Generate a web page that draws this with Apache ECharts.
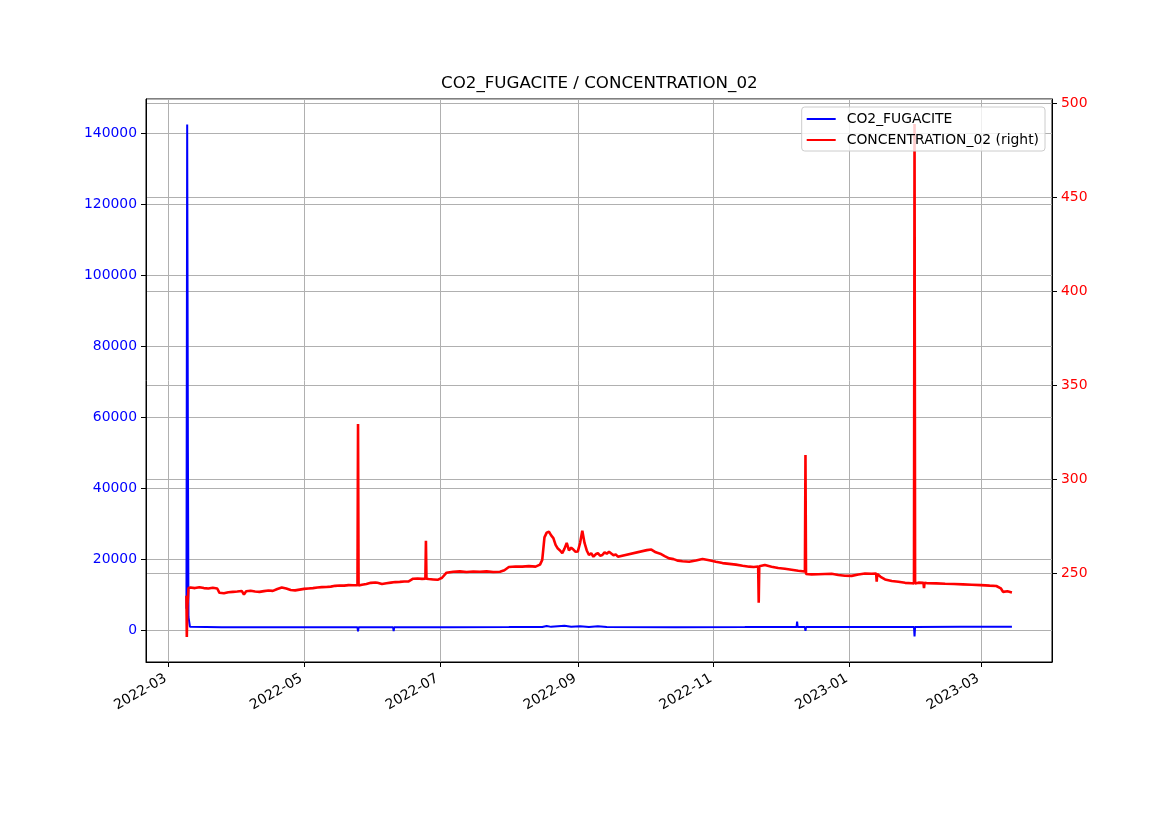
<!DOCTYPE html>
<html>
<head>
<meta charset="utf-8">
<script src="https://cdn.jsdelivr.net/npm/echarts@6/dist/echarts.min.js"></script>
<style>
  html, body { margin: 0; padding: 0; background: #fff; }
  #chart { width: 1169px; height: 827px; }
</style>
</head>
<body>
<div id="chart"></div>
<script>
// month ticks shown on the date axis
const monthTicks = ['2022-03-01', '2022-05-01', '2022-07-01', '2022-09-01', '2022-11-01', '2023-01-01', '2023-03-01'];

// CO2_FUGACITE (left axis)
const co2Fugacite = [
  ['2022-03-09 04:00', 6000], ['2022-03-09 12:00', 142400], ['2022-03-09 20:00', 50000],
  ['2022-03-10 02:00', 3700], ['2022-03-10 10:00', 3500], ['2022-03-10 18:00', 900],
  ['2022-03-25', 780], ['2022-04-15', 760], ['2022-05-10', 760],
  ['2022-05-25 00:00', 770], ['2022-05-25 06:00', -400], ['2022-05-25 12:00', 770],
  ['2022-06-10 00:00', 780], ['2022-06-10 06:00', -300], ['2022-06-10 12:00', 780],
  ['2022-07-05', 820], ['2022-08-01', 830], ['2022-08-16', 850], ['2022-08-18', 1150],
  ['2022-08-20', 900], ['2022-08-26', 1200], ['2022-08-29', 900], ['2022-09-02', 1100],
  ['2022-09-06', 850], ['2022-09-10', 1100], ['2022-09-14', 850], ['2022-10-15', 820],
  ['2022-11-15', 830],
  ['2022-12-08 06:00', 850], ['2022-12-08 12:00', 2400], ['2022-12-08 18:00', 850],
  ['2022-12-12 00:00', 850], ['2022-12-12 06:00', -200], ['2022-12-12 12:00', 850],
  ['2022-12-26 00:00', 860], ['2022-12-26 06:00', 1150], ['2022-12-26 12:00', 860],
  ['2023-01-15', 880],
  ['2023-01-30 00:00', 880], ['2023-01-30 06:00', -1800], ['2023-01-30 12:00', 880],
  ['2023-02-20', 900], ['2023-03-15', 900]
];

// CONCENTRATION_02 (right axis)
const concentration02 = [
  ['2022-03-09 04:00', 238], ['2022-03-09 08:00', 216], ['2022-03-09 14:00', 232], ['2022-03-10 02:00', 242],
  ['2022-03-11', 242.3], ['2022-03-13', 242], ['2022-03-15', 242.5], ['2022-03-17', 242],
  ['2022-03-19', 241.8], ['2022-03-21', 242.2], ['2022-03-23', 241.8],
  ['2022-03-24', 239.5], ['2022-03-26', 239.3], ['2022-03-28', 239.8], ['2022-03-30', 240],
  ['2022-04-01', 240.2], ['2022-04-03', 240.5], ['2022-04-04', 238.6], ['2022-04-05', 240.3],
  ['2022-04-07', 240.6], ['2022-04-09', 240.2], ['2022-04-11', 240], ['2022-04-13', 240.4],
  ['2022-04-15', 240.7], ['2022-04-17', 240.5], ['2022-04-19', 241.5], ['2022-04-21', 242.3],
  ['2022-04-23', 241.8], ['2022-04-25', 241], ['2022-04-27', 240.8], ['2022-04-29', 241.2],
  ['2022-05-01', 241.6], ['2022-05-03', 241.8], ['2022-05-05', 242], ['2022-05-07', 242.3],
  ['2022-05-09', 242.5], ['2022-05-11', 242.6], ['2022-05-13', 242.8], ['2022-05-15', 243.2],
  ['2022-05-17', 243.4], ['2022-05-19', 243.3], ['2022-05-21', 243.6], ['2022-05-23', 243.5],
  ['2022-05-25 00:00', 243.6], ['2022-05-25 06:00', 329.3], ['2022-05-25 12:00', 243.4],
  ['2022-05-27', 243.8], ['2022-05-29', 244.2], ['2022-05-31', 244.8],
  ['2022-06-02', 245], ['2022-06-03', 244.8], ['2022-06-05', 244.2], ['2022-06-07', 244.6],
  ['2022-06-09', 244.9], ['2022-06-11', 245.2], ['2022-06-13', 245.3], ['2022-06-15', 245.5],
  ['2022-06-17', 245.6], ['2022-06-19', 247], ['2022-06-21', 247.1], ['2022-06-23', 246.9],
  ['2022-06-24 12:00', 247], ['2022-06-24 18:00', 267.2], ['2022-06-25 00:00', 247],
  ['2022-06-26', 246.8], ['2022-06-28', 246.6], ['2022-06-30', 246.4],
  ['2022-07-02', 247.5], ['2022-07-04', 250.2], ['2022-07-07', 250.7], ['2022-07-10', 250.9],
  ['2022-07-13', 250.6], ['2022-07-16', 250.8], ['2022-07-19', 250.7], ['2022-07-22', 250.9],
  ['2022-07-25', 250.6], ['2022-07-28', 250.7], ['2022-07-30', 251.5],
  ['2022-08-01', 253.2], ['2022-08-04', 253.5], ['2022-08-07', 253.4], ['2022-08-10', 253.7],
  ['2022-08-13', 253.4], ['2022-08-15', 254.5], ['2022-08-16', 257], ['2022-08-17', 269],
  ['2022-08-18', 271.5], ['2022-08-19', 272], ['2022-08-20', 270], ['2022-08-21', 268.6],
  ['2022-08-22', 265], ['2022-08-23', 263], ['2022-08-24', 262], ['2022-08-25', 260.6],
  ['2022-08-26', 263], ['2022-08-27', 266], ['2022-08-28', 262], ['2022-08-29', 263.5],
  ['2022-08-30', 262.5], ['2022-08-31', 261.3],
  ['2022-09-01', 261.5], ['2022-09-02', 266], ['2022-09-03', 272.5], ['2022-09-04', 266],
  ['2022-09-05', 262], ['2022-09-06', 259.6], ['2022-09-07', 260.5], ['2022-09-08', 258.7],
  ['2022-09-09', 260], ['2022-09-10', 260.6], ['2022-09-11', 259.2], ['2022-09-12', 259.6],
  ['2022-09-13', 261], ['2022-09-14', 260.3], ['2022-09-15', 261.3], ['2022-09-16', 260.4],
  ['2022-09-17', 259.5], ['2022-09-18', 259.9], ['2022-09-19', 258.7],
  ['2022-10-02', 262.2], ['2022-10-04', 262.5], ['2022-10-06', 261], ['2022-10-08', 260.3],
  ['2022-10-10', 259], ['2022-10-12', 257.8], ['2022-10-14', 257.4], ['2022-10-16', 256.6],
  ['2022-10-18', 256.3], ['2022-10-21', 256], ['2022-10-24', 256.7], ['2022-10-27', 257.5],
  ['2022-10-30', 256.8],
  ['2022-11-02', 256], ['2022-11-05', 255.3], ['2022-11-08', 254.9], ['2022-11-11', 254.5],
  ['2022-11-14', 253.9], ['2022-11-17', 253.4], ['2022-11-19', 253.2],
  ['2022-11-21 00:00', 253.5], ['2022-11-21 06:00', 234.2], ['2022-11-21 12:00', 253.6],
  ['2022-11-24', 254.3], ['2022-11-27', 253.4], ['2022-11-30', 252.7],
  ['2022-12-03', 252.3], ['2022-12-06', 251.8], ['2022-12-09', 251.2],
  ['2022-12-12 00:00', 250.8], ['2022-12-12 06:00', 312.8], ['2022-12-12 12:00', 249.5],
  ['2022-12-15', 249.3], ['2022-12-18', 249.4], ['2022-12-21', 249.5], ['2022-12-24', 249.6],
  ['2022-12-27', 249], ['2022-12-30', 248.6],
  ['2023-01-02', 248.5], ['2023-01-05', 249.2], ['2023-01-08', 249.8], ['2023-01-11', 249.6],
  ['2023-01-13 00:00', 249.8], ['2023-01-13 06:00', 245.4], ['2023-01-13 12:00', 249.5],
  ['2023-01-15', 248], ['2023-01-17', 246.6], ['2023-01-20', 245.8], ['2023-01-23', 245.4],
  ['2023-01-26', 244.8], ['2023-01-29', 244.6],
  ['2023-01-30 00:00', 244.5], ['2023-01-30 06:00', 488.8], ['2023-01-30 12:00', 244.4],
  ['2023-02-01', 244.9], ['2023-02-03 06:00', 244.8], ['2023-02-03 12:00', 242], ['2023-02-03 18:00', 244.8],
  ['2023-02-05', 244.6], ['2023-02-09', 244.5], ['2023-02-13', 244.3], ['2023-02-17', 244.2],
  ['2023-02-21', 244], ['2023-02-25', 243.8],
  ['2023-03-01', 243.6], ['2023-03-05', 243.3], ['2023-03-08', 243.1], ['2023-03-10', 241.9],
  ['2023-03-11', 240], ['2023-03-13', 240.3], ['2023-03-15', 239.7]
];

const FONT = 'DejaVu Sans';
const TICK_FS = 13.9;

// parse 'YYYY-MM-DD[ HH:MM]' as UTC milliseconds
function toMs(s) {
  const p = s.split(/[- :]/).map(Number);
  return Date.UTC(p[0], p[1] - 1, p[2], p[3] || 0, p[4] || 0);
}
function fmtMonth(ms) {
  const d = new Date(ms);
  const m = d.getUTCMonth() + 1;
  return d.getUTCFullYear() + '-' + (m < 10 ? '0' + m : m);
}

const tickTimes = monthTicks.map(toMs);
const blueData = co2Fugacite.map(d => [toMs(d[0]), d[1]]);
const redData = concentration02.map(d => [toMs(d[0]), d[1]]);

const chart = echarts.init(document.getElementById('chart'));

const option = {
  animation: false,
  backgroundColor: '#fff',
  textStyle: { fontFamily: FONT },
  title: {
    text: 'CO2_FUGACITE / CONCENTRATION_02',
    left: 441,
    top: 75,
    padding: 0,
    textStyle: { fontFamily: FONT, fontSize: 16.7, fontWeight: 'normal', color: '#000' }
  },
  legend: {
    orient: 'vertical',
    right: 124,
    top: 107,
    padding: [5, 6, 4, 5],
    itemGap: 7,
    itemWidth: 29,
    itemHeight: 2,
    icon: 'rect',
    backgroundColor: 'rgba(255,255,255,0.8)',
    borderColor: '#cccccc',
    borderWidth: 1,
    borderRadius: 3,
    textStyle: { fontFamily: FONT, fontSize: TICK_FS, color: '#000', padding: [0, 0, 0, 6] },
    data: ['CO2_FUGACITE', 'CONCENTRATION_02 (right)']
  },
  grid: {
    left: 146, right: 117, top: 99, bottom: 165,
    show: true, borderColor: '#000', borderWidth: 1, backgroundColor: 'transparent'
  },
  xAxis: {
    type: 'value',
    min: toMs('2022-02-19 00:00'),
    max: toMs('2023-04-02 00:00'),
    axisLine: { show: true, onZero: false, lineStyle: { color: '#000', width: 1 } },
    axisTick: { show: true, length: 5, customValues: tickTimes, lineStyle: { color: '#000' } },
    axisLabel: {
      customValues: tickTimes,
      rotate: 30,
      margin: 14,
      padding: [0, 3, 0, 0],
      fontFamily: FONT,
      fontSize: TICK_FS,
      color: '#000',
      formatter: v => fmtMonth(v)
    },
    splitLine: { show: true, lineStyle: { color: '#b0b0b0', width: 1 } }
  },
  yAxis: [
    {
      type: 'value',
      min: -9000,
      max: 149600,
      splitNumber: 8,
      position: 'left',
      axisLine: { show: true, onZero: false, lineStyle: { color: '#000' } },
      axisTick: { show: true, length: 5, lineStyle: { color: '#000' } },
      axisLabel: {
        color: '#0000ff', fontFamily: FONT, fontSize: TICK_FS, margin: 9,
        showMinLabel: false, showMaxLabel: false,
        formatter: v => String(v)
      },
      splitLine: { show: true, lineStyle: { color: '#b0b0b0', width: 1 } }
    },
    {
      type: 'value',
      min: 202.7,
      max: 502.1,
      splitNumber: 6,
      position: 'right',
      axisLine: { show: true, onZero: false, lineStyle: { color: '#000' } },
      axisTick: { show: true, length: 5, lineStyle: { color: '#000' } },
      axisLabel: {
        color: '#ff0000', fontFamily: FONT, fontSize: TICK_FS, margin: 9,
        showMinLabel: false, showMaxLabel: false,
        formatter: v => String(v)
      },
      splitLine: { show: true, lineStyle: { color: '#b0b0b0', width: 1 } }
    }
  ],
  series: [
    {
      name: 'CO2_FUGACITE',
      type: 'line',
      yAxisIndex: 0,
      showSymbol: false,
      data: blueData,
      lineStyle: { color: '#0000ff', width: 2 },
      itemStyle: { color: '#0000ff' }
    },
    {
      name: 'CONCENTRATION_02 (right)',
      type: 'line',
      yAxisIndex: 1,
      showSymbol: false,
      data: redData,
      lineStyle: { color: '#ff0000', width: 2.6 },
      itemStyle: { color: '#ff0000' }
    }
  ]
};

chart.setOption(option);
</script>
</body>
</html>
